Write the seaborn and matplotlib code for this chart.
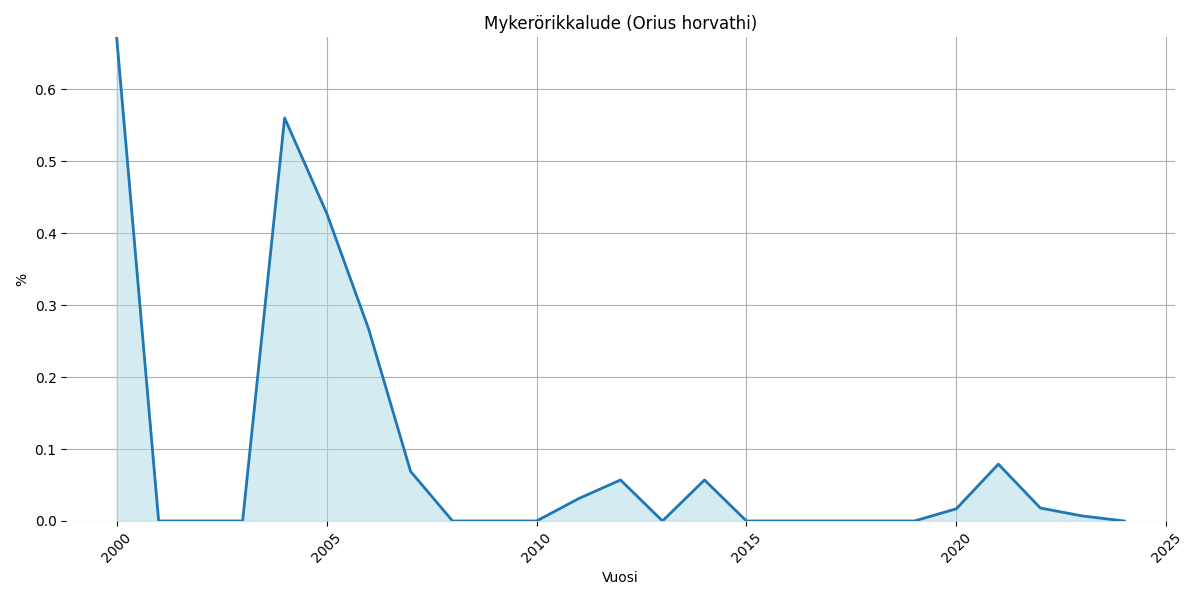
#!/usr/bin/env python3

import matplotlib
matplotlib.use("Agg")
import matplotlib.pyplot as plt
import pandas as pd
import seaborn as sns

years = list(range(2000, 2025))
percent = [
    0.672, 0.0, 0.0, 0.0, 0.560, 0.428, 0.267, 0.069, 0.0, 0.0,
    0.0, 0.031, 0.057, 0.0, 0.057, 0.0, 0.0, 0.0, 0.0, 0.0,
    0.017, 0.079, 0.018, 0.007, 0.0,
]

df = pd.DataFrame({"Vuosi": years, "%": percent})

fig, ax = plt.subplots(figsize=(12, 6), dpi=100)
ax.fill_between(df["Vuosi"], df["%"], color="lightblue", alpha=0.5)
sns.lineplot(data=df, x="Vuosi", y="%", ax=ax, color="#1f77b4", linewidth=2)

ax.set_title("Mykerörikkalude (Orius horvathi)")
ax.set_xlabel("Vuosi")
ax.set_ylabel("%")
ax.set_ylim(0, max(percent))
ax.grid(True, color="#b0b0b0", linewidth=0.8)
ax.set_axisbelow(True)
for spine in ax.spines.values():
    spine.set_visible(False)
plt.xticks(rotation=45)
plt.tight_layout()
plt.savefig("out.png")
plt.close()
